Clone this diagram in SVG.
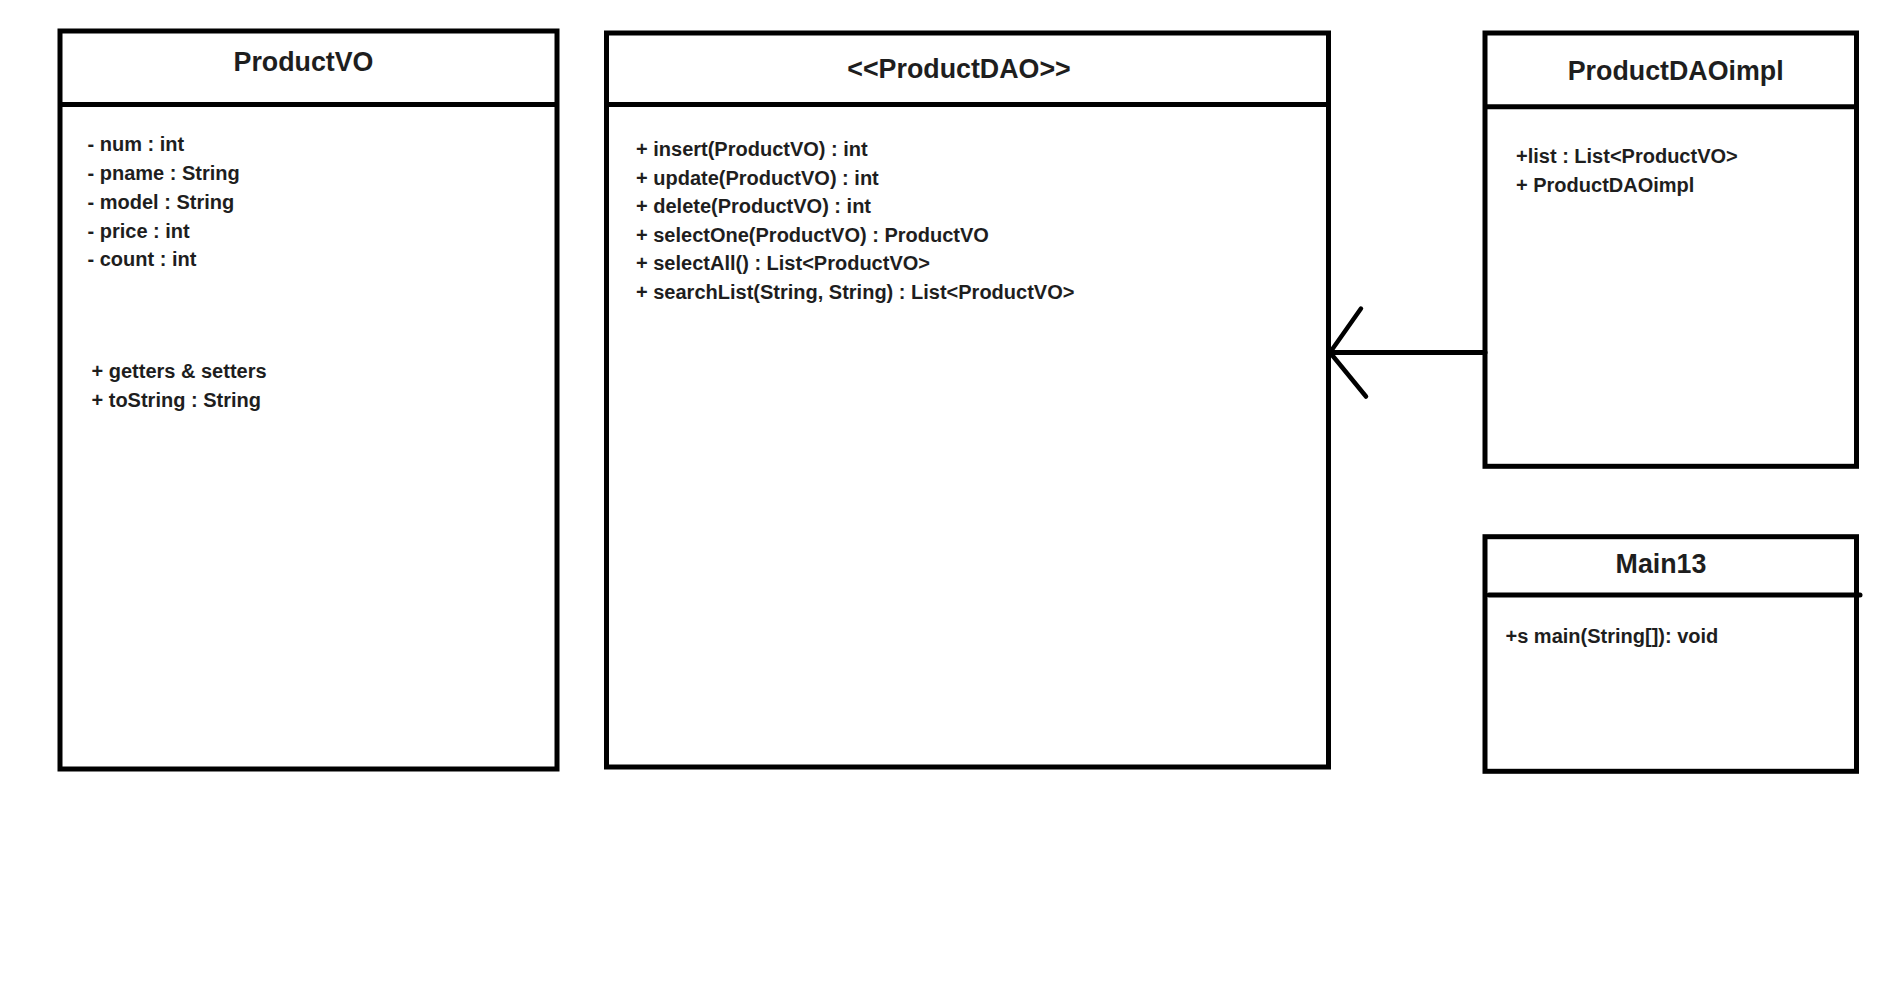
<svg xmlns="http://www.w3.org/2000/svg" width="1881" height="1000" viewBox="0 0 1881 1000">
  <style>
    .box { fill: #ffffff; stroke: #000000; stroke-width: 5; }
    .div { stroke: #000000; stroke-width: 5; fill: none; }
    .title { font-family: "Liberation Sans", Arial, sans-serif; font-weight: bold; font-size: 26.8px; fill: #1e1e1e; text-anchor: middle; }
    .item { font-family: "Liberation Sans", Arial, sans-serif; font-weight: bold; font-size: 20px; fill: #1e1e1e; }
    .conn { stroke: #000000; fill: none; stroke-linecap: round; stroke-linejoin: round; }
  </style>
  <rect x="0" y="0" width="1881" height="1000" fill="#ffffff"/>

  <g id="ProductVO">
    <rect class="box" x="60" y="31" width="497" height="738"/>
    <line class="div" x1="60" y1="104.5" x2="557" y2="104.5"/>
    <text class="title" x="303.5" y="71">ProductVO</text>
    <text class="item" x="87.5" y="151">- num : int</text>
    <text class="item" x="87.5" y="180">- pname : String</text>
    <text class="item" x="87.5" y="209">- model : String</text>
    <text class="item" x="87.5" y="237.5">- price : int</text>
    <text class="item" x="87.5" y="266">- count : int</text>
    <text class="item" x="91.5" y="377.5">+ getters &amp; setters</text>
    <text class="item" x="91.5" y="406.5">+ toString : String</text>
  </g>

  <g id="ProductDAO">
    <rect class="box" x="606.5" y="33" width="722" height="734"/>
    <line class="div" x1="606.5" y1="104.5" x2="1328.5" y2="104.5"/>
    <text class="title" x="959" y="77.5">&lt;&lt;ProductDAO&gt;&gt;</text>
    <text class="item" x="636" y="156">+ insert(ProductVO) : int</text>
    <text class="item" x="636" y="184.5">+ update(ProductVO) : int</text>
    <text class="item" x="636" y="213">+ delete(ProductVO) : int</text>
    <text class="item" x="636" y="241.5">+ selectOne(ProductVO) : ProductVO</text>
    <text class="item" x="636" y="270">+ selectAll() : List&lt;ProductVO&gt;</text>
    <text class="item" x="636" y="298.5">+ searchList(String, String) : List&lt;ProductVO&gt;</text>
  </g>

  <g id="ProductDAOimpl">
    <rect class="box" x="1485" y="33" width="371.5" height="433.3"/>
    <line class="div" x1="1485" y1="106.7" x2="1856.5" y2="106.7"/>
    <text class="title" x="1675.7" y="80">ProductDAOimpl</text>
    <text class="item" x="1516" y="163.3">+list : List&lt;ProductVO&gt;</text>
    <text class="item" x="1516" y="191.7">+ ProductDAOimpl</text>
  </g>

  <g id="Main13">
    <rect class="box" x="1485" y="536.7" width="371.5" height="234.6"/>
    <line class="div" x1="1489" y1="595" x2="1860" y2="595" stroke-linecap="round"/>
    <text class="title" x="1661" y="572.5">Main13</text>
    <text class="item" x="1505.5" y="643.3">+s main(String[]): void</text>
  </g>

  <g id="connectors">
    <line class="conn" x1="1485" y1="352.5" x2="1330" y2="352.5" stroke-width="5"/>
    <polyline class="conn" points="1361,308.5 1330,352.5 1366,396.5" stroke-width="4.5"/>
  </g>
</svg>
